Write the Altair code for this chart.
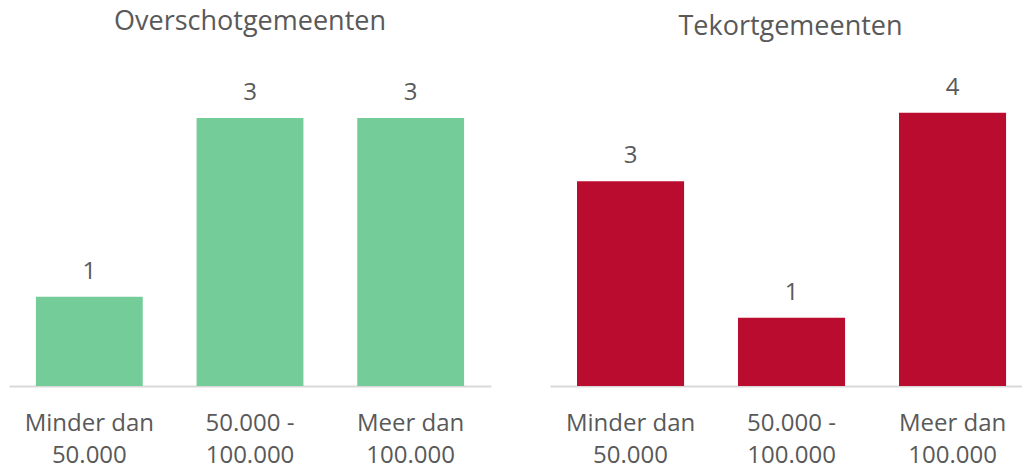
import altair as alt
import pandas as pd

categories = ["Minder dan\n50.000", "50.000 -\n100.000", "Meer dan\n100.000"]
overschot = [1, 3, 3]
tekort = [3, 1, 4]

FONT = "Open Sans"
TXT = "#595959"

df_l = pd.DataFrame({"cat": categories, "val": overschot})
df_r = pd.DataFrame({"cat": categories, "val": tekort})


def panel(df, title, color, width, ymax, pin, pout, align, toff, tdx):
    xs = alt.Scale(paddingInner=pin, paddingOuter=pout, align=align)
    x = alt.X("cat:N", sort=categories, scale=xs,
              axis=alt.Axis(title=None, labelExpr="split(datum.value, '\\n')",
                            labelAngle=0, ticks=False, domainColor="#D9D9D9",
                            domainWidth=2, labelFont=FONT, labelFontSize=24,
                            labelColor=TXT, labelBaseline="alphabetic",
                            labelPadding=44, labelLineHeight=32, grid=False))
    y = alt.Y("val:Q", scale=alt.Scale(domain=[0, ymax], nice=False), axis=None)
    base = alt.Chart(df)
    bars = base.mark_bar(color=color).encode(x=x, y=y)
    txt = base.mark_text(dy=-18, baseline="alphabetic", font=FONT, fontSize=24,
                         color=TXT).encode(x=alt.X("cat:N", sort=categories),
                                           y=y, text="val:Q")
    return (bars + txt).properties(
        width=width, height=310,
        title=alt.TitleParams(title, font=FONT, fontSize=27, color=TXT,
                              fontWeight="normal", anchor="middle",
                              baseline="alphabetic", offset=toff, dx=tdx,
                              frame="group"))


left = panel(df_l, "Overschotgemeenten", "#74CC98", 482, 3.47, 0.335, 0.1675, 0.5, 19, 0)
right = panel(df_r, "Tekortgemeenten", "#BA0C2F", 472, 4.54, 0.335, 0.1334, 0.629, 14, 4.5)

chart = alt.hconcat(left, right, spacing=59).properties(
    padding={"left": 9, "top": 8, "right": 0, "bottom": 0}
).configure(background="white").configure_view(strokeWidth=0, stroke="transparent")

chart.save("out.html", embed_options={"renderer": "svg", "actions": False})
